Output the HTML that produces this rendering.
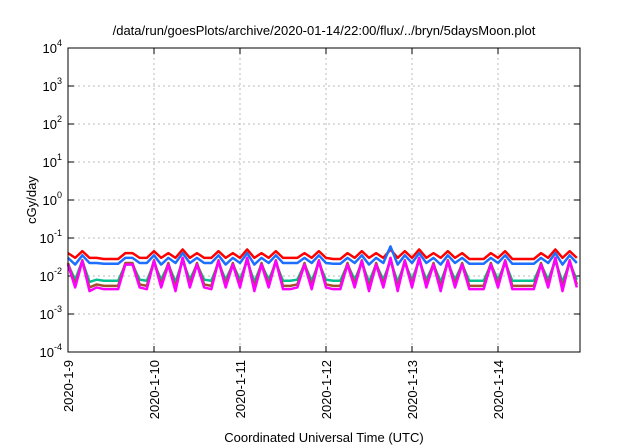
<!DOCTYPE html>
<html><head><meta charset="utf-8"><style>
body{margin:0;background:#fff}
svg{display:block;font-family:"Liberation Sans",sans-serif}
</style></head><body>
<svg id="c" width="640" height="448"></svg>
<script>
const hours=[];for(let i=0;i<72;i++)hours.push(i*2);
const magenta=[0.02,0.005,0.025,0.004,0.005,0.0045,0.0045,0.0045,0.02,0.02,0.005,0.0045,
0.025,0.005,0.02,0.004,0.03,0.005,0.02,0.005,0.0045,0.025,0.005,0.02,
0.005,0.03,0.004,0.02,0.005,0.025,0.0045,0.0045,0.005,0.02,0.0045,0.025,
0.005,0.0045,0.0045,0.02,0.005,0.025,0.004,0.02,0.005,0.03,0.004,0.025,
0.005,0.03,0.005,0.02,0.004,0.025,0.005,0.02,0.0045,0.0045,0.0045,0.02,
0.005,0.025,0.0045,0.0045,0.0045,0.0045,0.02,0.005,0.03,0.004,0.025,0.005];
const brown=[0.022,0.006,0.026,0.005,0.006,0.0055,0.0055,0.0055,0.022,0.022,0.006,0.0055,
0.026,0.006,0.022,0.005,0.03,0.006,0.022,0.006,0.0055,0.026,0.006,0.022,
0.006,0.03,0.005,0.022,0.006,0.026,0.0055,0.0055,0.006,0.022,0.0055,0.026,
0.006,0.0055,0.0055,0.022,0.006,0.026,0.005,0.022,0.006,0.03,0.005,0.026,
0.006,0.03,0.006,0.022,0.005,0.026,0.006,0.022,0.0055,0.0055,0.0055,0.022,
0.006,0.026,0.0055,0.0055,0.0055,0.0055,0.022,0.006,0.03,0.005,0.026,0.006];
const teal=[0.02,0.008,0.025,0.007,0.008,0.0075,0.0075,0.0075,0.02,0.02,0.008,0.0075,
0.022,0.008,0.02,0.007,0.025,0.008,0.02,0.008,0.0075,0.022,0.008,0.02,
0.008,0.025,0.007,0.02,0.008,0.022,0.0075,0.0075,0.008,0.02,0.0075,0.022,
0.008,0.0075,0.0075,0.02,0.008,0.022,0.007,0.02,0.008,0.025,0.007,0.022,
0.008,0.025,0.008,0.02,0.007,0.022,0.008,0.02,0.0075,0.0075,0.0075,0.02,
0.008,0.022,0.0075,0.0075,0.0075,0.0075,0.02,0.008,0.025,0.007,0.022,0.008];
const blue=[0.03,0.02,0.035,0.022,0.022,0.021,0.021,0.021,0.03,0.03,0.022,0.022,
0.035,0.02,0.03,0.022,0.04,0.022,0.03,0.022,0.022,0.035,0.02,0.03,
0.022,0.04,0.02,0.03,0.022,0.035,0.022,0.022,0.022,0.03,0.022,0.035,
0.022,0.021,0.021,0.03,0.022,0.035,0.02,0.03,0.022,0.06,0.02,0.035,
0.022,0.04,0.022,0.03,0.02,0.035,0.022,0.03,0.021,0.021,0.021,0.03,
0.022,0.035,0.021,0.021,0.021,0.021,0.03,0.022,0.04,0.02,0.035,0.022];
const red=[0.04,0.03,0.045,0.03,0.03,0.028,0.028,0.028,0.04,0.04,0.03,0.03,
0.045,0.03,0.04,0.03,0.05,0.03,0.04,0.03,0.03,0.045,0.03,0.04,
0.03,0.05,0.03,0.04,0.03,0.045,0.03,0.03,0.03,0.04,0.03,0.045,
0.03,0.028,0.028,0.04,0.03,0.045,0.03,0.04,0.03,0.05,0.03,0.045,
0.03,0.05,0.03,0.04,0.03,0.045,0.03,0.04,0.028,0.028,0.028,0.04,
0.03,0.045,0.028,0.028,0.028,0.028,0.04,0.03,0.05,0.03,0.045,0.03];
const dayLabels=["2020-1-9","2020-1-10","2020-1-11","2020-1-12","2020-1-13","2020-1-14"];
const yExps=[-4,-3,-2,-1,0,1,2,3,4];

const L=68,R=580,T=48,B=352,DAY=86;
const x=h=>L+h/24*DAY;
const y=v=>B-(Math.log10(v)+4)*(B-T)/8;
const svg=document.getElementById('c');const NS='http://www.w3.org/2000/svg';
function mk(t,a,p){const e=document.createElementNS(NS,t);for(const k in a)e.setAttribute(k,a[k]);(p||svg).appendChild(e);return e;}
// grid
yExps.forEach(e=>{const yy=y(Math.pow(10,e));
 if(e>-4&&e<4){const g=mk('line',{x1:L,x2:R,y1:yy,y2:yy,stroke:'#bbb','stroke-dasharray':'2,3','stroke-width':1});}
 const tk=mk('line',{x1:L,x2:L+6,y1:yy,y2:yy,stroke:'#000'});
 mk('line',{x1:R-6,x2:R,y1:yy,y2:yy,stroke:'#000'});
 const t=mk('text',{x:57,y:yy+5,'text-anchor':'end','font-size':13});
 
 t.textContent='10';const s=mk('tspan',{dy:-7,'font-size':9},t);s.textContent=String(e);
 mk('tspan',{x:57,dy:0},t);
 t.setAttribute('x',62);t.setAttribute('text-anchor','end');
 t.firstChild.remove();const b=mk('tspan',{dy:0},t);b.textContent='10';t.insertBefore(b,s);
});
dayLabels.forEach((d,i)=>{const xx=L+i*DAY;
 if(i>0){const g=mk('line',{x1:xx,x2:xx,y1:T,y2:B,stroke:'#bbb','stroke-dasharray':'2,3'});}
 mk('line',{x1:xx,x2:xx,y1:B-6,y2:B,stroke:'#000'});mk('line',{x1:xx,x2:xx,y1:T,y2:T+6,stroke:'#000'});
 const t=mk('text',{x:xx+5,y:360,'text-anchor':'end','font-size':13,transform:`rotate(-90 ${xx+5} 360)`});
 t.textContent=d;
});
// series
[[red,'#ff0000','red'],[blue,'#1e6fff','blue'],[teal,'#00c090','teal'],[brown,'#a0522d','brown'],[magenta,'#ff00ff','magenta']].forEach(([s,c,n])=>{
 const p=mk('polyline',{points:s.map((v,i)=>x(hours[i])+','+y(v)).join(' '),fill:'none',stroke:c,'stroke-width':2.5,'stroke-linejoin':'round'});
 
});
const fr=mk('rect',{x:L,y:T,width:R-L,height:B-T,fill:'none',stroke:'#000'});

const ti=mk('text',{x:324,y:35,'text-anchor':'middle','font-size':13});ti.textContent='/data/run/goesPlots/archive/2020-01-14/22:00/flux/../bryn/5daysMoon.plot';

const yl=mk('text',{x:36,y:200,'text-anchor':'middle','font-size':13,transform:'rotate(-90 36 200)'});yl.textContent='cGy/day';

const xl=mk('text',{x:324,y:442,'text-anchor':'middle','font-size':13});xl.textContent='Coordinated Universal Time (UTC)';

</script>
</body></html>
